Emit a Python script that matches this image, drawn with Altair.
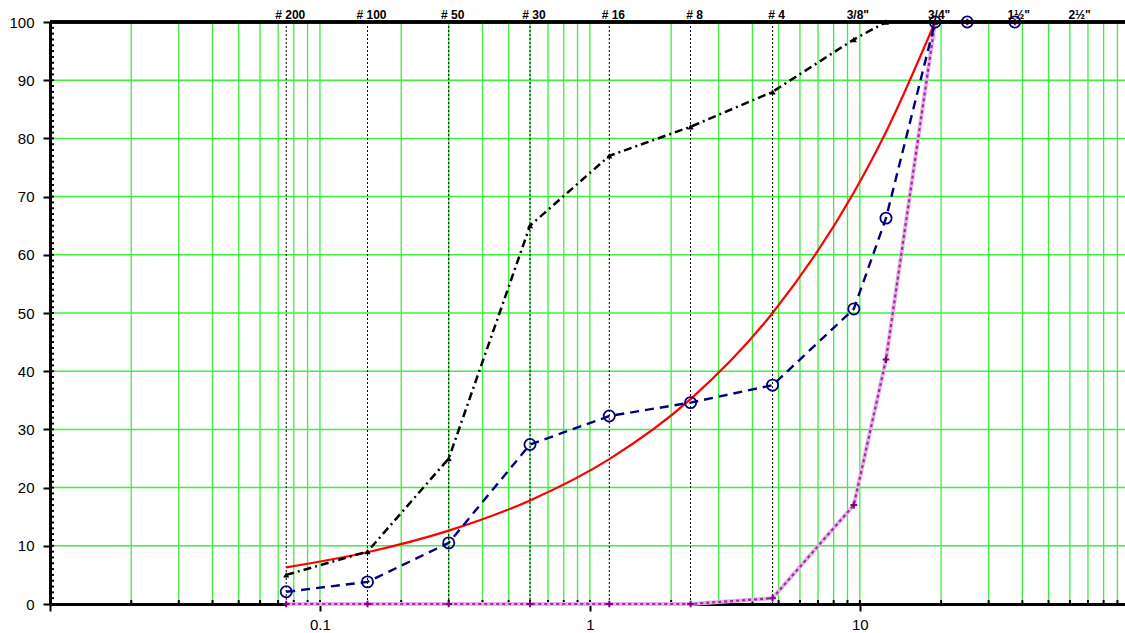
import altair as alt
import pandas as pd

# Sieve openings (mm) and percent passing for each gradation
sizes = [0.075, 0.15, 0.3, 0.6, 1.18, 2.36, 4.75, 9.5, 12.5, 19, 25, 37.5]
fine_pct = [5, 9, 25, 65, 77, 82, 88, 97, 100, 100]           # black dash-dot
sample_pct = [2.1, 3.8, 10.5, 27.4, 32.3, 34.6, 37.6, 50.7, 66.3, 100, 100, 100]  # blue dashed
coarse_pct = [0, 0, 0, 0, 0, 0, 1, 17, 42, 100, 100, 100]     # purple dotted
max_density_pct = [6.3, 8.9, 12.6, 17.8, 24.9, 35.2, 50.0, 70.7, 81.1, 100]  # red curve

sieve_names = ["# 200", "# 100", "# 50", "# 30", "# 16", "# 8", "# 4",
               '3/8"', '3/4"', '1½"', '2½"']
sieve_label_sizes = [0.075, 0.15, 0.3, 0.6, 1.18, 2.36, 4.75, 9.5, 19, 37.5, 63]
number_sieves = [0.075, 0.15, 0.3, 0.6, 1.18, 2.36, 4.75]

x_ticks = [0.01, 0.1, 1, 10]
y_ticks = list(range(0, 101, 10))

W, H = 1075, 582
FONT = "Liberation Sans"
GRID = "#3CF03C"

xs = alt.Scale(type="log", domain=[0.01, 96], nice=False)
ys = alt.Scale(domain=[0, 100], nice=False)

x_axis = alt.Axis(values=x_ticks, grid=False, title=None, tickSize=7, tickWidth=2,
                  tickColor="black", domainColor="black", domainWidth=3,
                  labelFont=FONT, labelFontSize=15, labelColor="black", labelPadding=6,
                  labelExpr="datum.value < 0.05 ? '' : (datum.value == 0.1 ? '0.1' : (datum.value == 1 ? '1' : '10'))",
                  zindex=0)
y_axis = alt.Axis(values=y_ticks, grid=False, title=None, tickSize=7, tickWidth=2,
                  tickColor="black", domainColor="black", domainWidth=3,
                  labelFont=FONT, labelFontSize=15, labelColor="black", labelPadding=9,
                  zindex=0)

# log-cycle gridlines (2..9 per decade plus decades) and 10 % horizontal gridlines
vgrid = pd.DataFrame({"x": [k * 10.0 ** e for e in range(-2, 2) for k in range(1, 10)]})
vgrid = vgrid[(vgrid.x > 0.011) & (vgrid.x <= 96)]
hgrid = pd.DataFrame({"y": list(range(10, 100, 10))})
yminor = pd.DataFrame({"y": list(range(1, 101))})

vlines = alt.Chart(vgrid).mark_rule(color=GRID, strokeWidth=1.3).encode(
    x=alt.X("x:Q", scale=xs, axis=x_axis), y=alt.value(0), y2=alt.value(H))
hlines = alt.Chart(hgrid).mark_rule(color=GRID, strokeWidth=1.5).encode(
    y=alt.Y("y:Q", scale=ys, axis=y_axis), x=alt.value(0), x2=alt.value(W))

# small inward ticks along the bottom and left axes
xminor_ticks = alt.Chart(vgrid).mark_rule(color="black", strokeWidth=2).encode(
    x=alt.X("x:Q", scale=xs), y=alt.value(H - 4), y2=alt.value(H))
yminor_ticks = alt.Chart(yminor).mark_rule(color="black", strokeWidth=2).encode(
    y=alt.Y("y:Q", scale=ys), x=alt.value(0), x2=alt.value(4))

sieve_df = pd.DataFrame({"x": number_sieves})
sieve_lines = alt.Chart(sieve_df).mark_rule(color="black", strokeWidth=1, strokeDash=[2, 2]).encode(
    x=alt.X("x:Q", scale=xs), y=alt.value(0), y2=alt.value(H))

labels_df = pd.DataFrame({"x": sieve_label_sizes, "name": sieve_names})
sieve_text = alt.Chart(labels_df).mark_text(font=FONT, fontSize=12, fontWeight="bold",
                                            color="black", baseline="alphabetic", dx=4, dy=-3).encode(
    x=alt.X("x:Q", scale=xs), y=alt.value(0), text="name:N")

fine_df = pd.DataFrame({"x": sizes[:len(fine_pct)], "y": fine_pct})
sample_df = pd.DataFrame({"x": sizes, "y": sample_pct})
coarse_df = pd.DataFrame({"x": sizes, "y": coarse_pct})
red_df = pd.DataFrame({"x": sizes[:len(max_density_pct)], "y": max_density_pct})

enc = dict(x=alt.X("x:Q", scale=xs), y=alt.Y("y:Q", scale=ys))

coarse_base = alt.Chart(coarse_df).mark_line(color="#E8B0E8", strokeWidth=4).encode(**enc)
coarse_line = alt.Chart(coarse_df).mark_line(color="#9A2E9A", strokeWidth=2.2, strokeDash=[3, 3]).encode(**enc)
coarse_pts = alt.Chart(coarse_df).mark_point(shape="M -1 0 L 1 0 M 0 -1 L 0 1", size=45,
                                             filled=False, color="#800080", strokeWidth=2,
                                             opacity=1).encode(**enc)

red_line = alt.Chart(red_df).mark_line(color="#FF0000", strokeWidth=2.2,
                                       interpolate="monotone").encode(**enc)

sample_line = alt.Chart(sample_df).mark_line(color="#000080", strokeWidth=2.4,
                                             strokeDash=[9, 6]).encode(**enc)
sample_pts = alt.Chart(sample_df).mark_point(shape="circle", size=125, filled=False,
                                             color="#000080", strokeWidth=1.8,
                                             opacity=1).encode(**enc)

fine_line = alt.Chart(fine_df).mark_line(color="black", strokeWidth=2.5,
                                         strokeDash=[8, 4, 2, 4]).encode(**enc)
fine_pts = alt.Chart(fine_df).mark_point(shape="triangle-up", size=38, filled=True,
                                         color="black", opacity=1).encode(**enc)

top_border = alt.Chart(hgrid).mark_rule(color="black", strokeWidth=2.5).encode(
    x=alt.value(0), x2=alt.value(W), y=alt.value(0))

chart = alt.layer(
    vlines, hlines, xminor_ticks, yminor_ticks, sieve_lines,
    coarse_base, coarse_line, red_line, sample_line, sample_pts,
    fine_line, fine_pts, coarse_pts, top_border, sieve_text
).properties(
    width=W, height=H,
    padding={"left": 50, "top": 22, "right": 0, "bottom": 29},
    autosize=alt.AutoSizeParams(type="none"),
).configure_view(
    fill="#CCFFFF", stroke=None
).configure(background="white")

chart.save("out.html", embed_options={"renderer": "svg", "actions": False})
